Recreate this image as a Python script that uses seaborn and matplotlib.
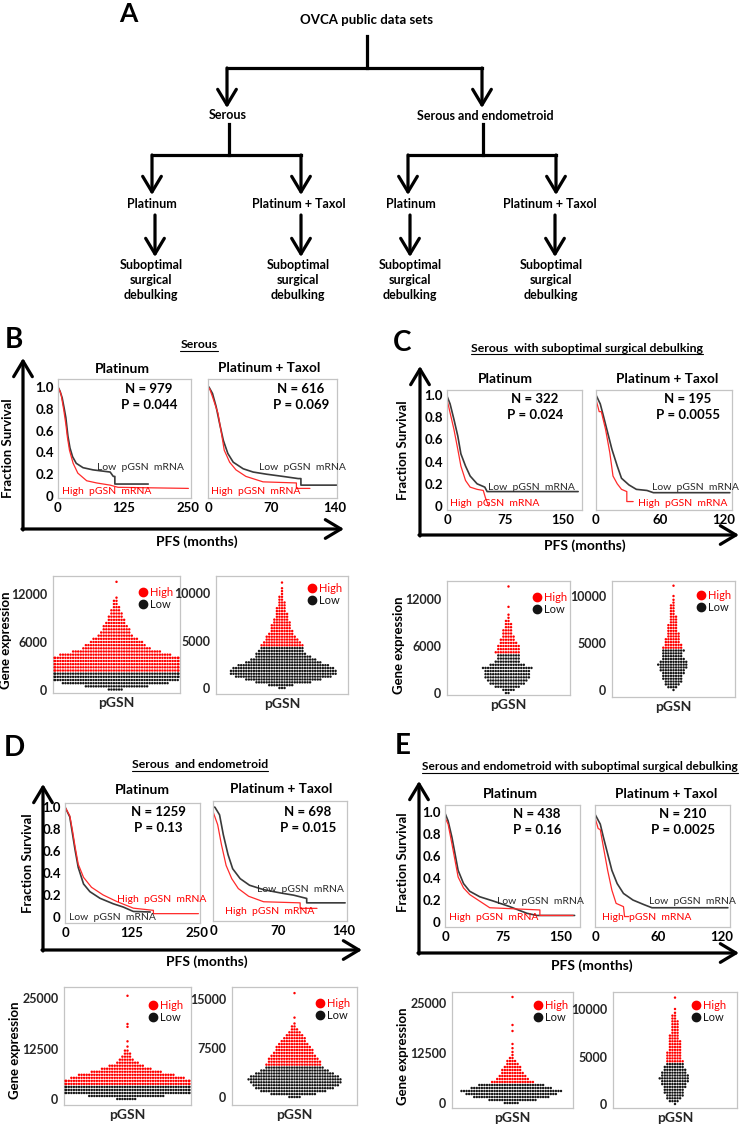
import numpy as np
import pandas as pd
import matplotlib
matplotlib.use('Agg')
import matplotlib.pyplot as plt
import seaborn as sns
from matplotlib.lines import Line2D

sns.set_theme(style='white')
plt.rcParams['font.family'] = ['Lato', 'DejaVu Sans']

# ---------------- Kaplan-Meier curves (months, fraction surviving)
# B: serous
b_plat_low_t = [0, 4, 8, 12, 15, 19, 23, 28, 35, 48, 67, 100, 106, 109, 109, 173]
b_plat_low_s = [1.0, 0.96, 0.9, 0.8, 0.72, 0.55, 0.44, 0.36, 0.3, 0.26, 0.24, 0.22, 0.18, 0.18, 0.11, 0.11]
b_plat_high_t = [0, 3, 6, 11, 15, 18, 22, 29, 38, 55, 74, 100, 115, 250]
b_plat_high_s = [1.0, 0.97, 0.93, 0.79, 0.66, 0.54, 0.42, 0.3, 0.21, 0.14, 0.12, 0.1, 0.08, 0.07]
b_tax_low_t = [0, 1, 5, 9, 13, 17, 22, 28, 39, 50, 65, 83, 100, 103, 103, 143]
b_tax_low_s = [1.0, 1.0, 0.94, 0.82, 0.66, 0.51, 0.39, 0.31, 0.25, 0.22, 0.2, 0.18, 0.16, 0.16, 0.1, 0.1]
b_tax_high_t = [0, 2, 5, 11, 15, 18, 24, 31, 42, 61, 98, 98, 113]
b_tax_high_s = [1.0, 0.98, 0.91, 0.76, 0.57, 0.42, 0.31, 0.24, 0.18, 0.13, 0.12, 0.07, 0.07]
# C: serous, suboptimal debulking
c_plat_low_t = [0, 4, 9, 14, 18, 24, 30, 39, 49, 52, 170]
c_plat_low_s = [0.99, 0.92, 0.78, 0.63, 0.47, 0.36, 0.27, 0.2, 0.17, 0.13, 0.13]
c_plat_high_t = [0, 4, 9, 14, 18, 24, 30, 39, 47, 50, 54]
c_plat_high_s = [0.96, 0.84, 0.69, 0.51, 0.36, 0.23, 0.17, 0.15, 0.14, 0.07, 0.0]
c_tax_low_t = [0, 4, 7, 11, 15, 20, 24, 31, 38, 48, 54, 126]
c_tax_low_s = [1.0, 0.92, 0.81, 0.66, 0.51, 0.36, 0.25, 0.19, 0.15, 0.14, 0.12, 0.12]
c_tax_high_t = [0, 3, 5, 9, 13, 16, 20, 24, 29, 29, 35]
c_tax_high_s = [0.96, 0.85, 0.85, 0.69, 0.48, 0.27, 0.2, 0.15, 0.13, 0.04, 0.04]
# D: serous and endometrioid
d_plat_low_t = [0, 9, 14, 19, 25, 35, 47, 66, 91, 110, 129, 161]
d_plat_low_s = [1.0, 0.91, 0.76, 0.61, 0.45, 0.3, 0.23, 0.17, 0.12, 0.09, 0.05, 0.045]
d_plat_high_t = [0, 9, 14, 19, 25, 35, 50, 72, 98, 129, 167, 167, 252]
d_plat_high_s = [1.0, 0.92, 0.79, 0.64, 0.48, 0.36, 0.27, 0.2, 0.14, 0.08, 0.06, 0.03, 0.03]
d_tax_low_t = [0, 2, 7, 11, 16, 21, 29, 39, 54, 72, 86, 100, 100, 141]
d_tax_low_s = [0.98, 0.98, 0.91, 0.73, 0.55, 0.42, 0.33, 0.27, 0.23, 0.2, 0.18, 0.15, 0.11, 0.11]
d_tax_high_t = [0, 5, 9, 14, 20, 27, 38, 54, 93, 93, 111]
d_tax_high_s = [0.94, 0.82, 0.64, 0.45, 0.33, 0.24, 0.17, 0.12, 0.11, 0.06, 0.06]
# E: serous and endometrioid, suboptimal debulking
e_plat_low_t = [0, 4, 9, 13, 17, 24, 32, 45, 63, 84, 106, 119, 168]
e_plat_low_s = [0.99, 0.92, 0.77, 0.62, 0.47, 0.35, 0.28, 0.23, 0.19, 0.14, 0.08, 0.06, 0.06]
e_plat_high_t = [0, 4, 9, 13, 17, 24, 32, 45, 58, 123, 123, 166]
e_plat_high_s = [0.95, 0.89, 0.71, 0.56, 0.41, 0.31, 0.25, 0.19, 0.13, 0.11, 0.06, 0.06]
e_tax_low_t = [0, 5, 8, 12, 16, 21, 27, 36, 46, 54, 126]
e_tax_low_s = [0.98, 0.89, 0.77, 0.62, 0.47, 0.35, 0.26, 0.2, 0.16, 0.13, 0.13]
e_tax_high_t = [0, 3, 5, 8, 12, 16, 20, 27, 28, 32]
e_tax_high_s = [0.95, 0.85, 0.84, 0.68, 0.47, 0.29, 0.17, 0.14, 0.05, 0.05]

km_n = ['979', '616', '322', '195', '1259', '698', '438', '210']
km_p = ['0.044', '0.069', '0.024', '0.0055', '0.13', '0.015', '0.16', '0.0025']

# ---------------- pGSN expression swarms: expression level of each row and how many patients sit on it
b1_levels = [0, 400, 800, 1200, 1600, 2000, 2400, 2800, 3200, 3600, 4000, 4400, 4800, 5200, 5600, 6000,
             6400, 6800, 7200, 7600, 8000, 8400, 8800, 9200, 9600, 10000, 10400, 10800, 11200, 11600, 13600]
b1_counts = [6, 25, 42, 50, 51, 51, 51, 51, 51, 51, 51, 44, 35, 27, 24, 21,
             18, 14, 12, 11, 10, 8, 7, 6, 5, 4, 3, 2, 2, 1, 1]
b1_cut = 2300
b2_levels = [0, 300, 600, 900, 1200, 1500, 1800, 2100, 2400, 2700, 3000, 3300, 3600, 3900, 4200, 4500, 4800,
             5100, 5400, 5700, 6000, 6300, 6600, 6900, 7200, 7500, 7800, 8100, 8400, 8700, 9000, 9300, 9600,
             9900, 10200, 10500, 11100]
b2_counts = [3, 10, 22, 30, 38, 42, 42, 40, 36, 30, 26, 22, 20, 18, 17, 17, 15,
             13, 12, 10, 9, 8, 8, 7, 6, 5, 5, 4, 4, 3, 3, 2, 2,
             1, 1, 1, 1]
b2_cut = 4350
c1_levels = [0, 400, 800, 1200, 1600, 2000, 2400, 2800, 3200, 3600, 4000, 4400, 4800, 5200, 5600, 6000,
             6400, 6800, 7200, 7600, 8000, 8400, 8800, 9200, 9600, 10000, 11000, 13600]
c1_counts = [2, 5, 10, 14, 16, 18, 18, 18, 20, 14, 10, 9, 9, 10, 9, 9,
             7, 6, 5, 4, 4, 3, 3, 2, 1, 1, 1, 1]
c1_cut = 5000
c2_levels = [0, 300, 600, 900, 1200, 1500, 1800, 2100, 2400, 2700, 3000, 3300, 3600, 3900, 4200, 4500, 4800,
             5100, 5400, 5700, 6000, 6300, 6600, 6900, 7200, 7500, 7800, 8100, 8400, 8700, 9000, 9300, 9600,
             10000, 11100]
c2_counts = [1, 4, 6, 7, 8, 8, 9, 10, 11, 12, 11, 9, 8, 8, 9, 8, 7,
             6, 6, 5, 5, 4, 4, 4, 3, 3, 3, 2, 2, 2, 2, 1, 1,
             1, 1]
c2_cut = 4350
d1_levels = [0, 750, 1500, 2250, 3000, 3750, 4500, 5250, 6000, 6750, 7500, 8250, 9000, 9750, 10500,
             11250, 12000, 13000, 14300, 17900, 18600, 25600]
d1_counts = [8, 30, 51, 51, 51, 51, 51, 45, 38, 28, 20, 14, 9, 6, 4,
             3, 2, 1, 1, 1, 1, 1]
d1_cut = 3300
d2_levels = [0, 450, 900, 1350, 1800, 2250, 2700, 3150, 3600, 4050, 4500, 4950, 5400, 5850, 6300, 6750,
             7200, 7650, 8100, 8550, 9000, 9450, 9900, 10350, 10800, 11250, 12150, 15900]
d2_counts = [5, 18, 26, 31, 34, 36, 37, 35, 31, 27, 23, 22, 21, 20, 18, 16,
             15, 14, 12, 10, 9, 7, 5, 3, 2, 1, 1, 1]
d2_cut = 4700
e1_levels = [0, 750, 1500, 2250, 3000, 3750, 4500, 5250, 6000, 6750, 7500, 8250, 9000, 9750, 10500,
             11250, 12000, 12750, 13700, 14750, 18000, 19500, 26500]
e1_counts = [6, 19, 30, 36, 40, 32, 26, 17, 13, 11, 9, 8, 7, 5, 4,
             2, 1, 1, 1, 1, 1, 1, 1]
e1_cut = 5000
e2_levels = [0, 300, 600, 900, 1200, 1500, 1800, 2100, 2400, 2700, 3000, 3300, 3600, 3900, 4200, 4500, 4800,
             5100, 5400, 5700, 6000, 6300, 6600, 6900, 7200, 7500, 7800, 8100, 8400, 8700, 9000, 9300, 9600,
             10000, 11200]
e2_counts = [1, 4, 6, 7, 8, 8, 9, 10, 11, 12, 11, 10, 9, 8, 7, 7, 6,
             6, 6, 5, 5, 5, 5, 4, 4, 3, 3, 3, 3, 3, 2, 2, 1,
             1, 1]
e2_cut = 4350

LOW_LINE, HIGH_LINE = '#3a3a3a', '#ff2a2a'
LOW_DOT, HIGH_DOT = '#141414', '#ff0000'
FRAME = '#c4c4c4'

W, H = 747, 1124
fig = plt.figure(figsize=(W / 100, H / 100), dpi=100)


def px_axes(x0, y0, x1, y1):
    return fig.add_axes([x0 / W, 1 - y1 / H, (x1 - x0) / W, (y1 - y0) / H])


def frame(ax):
    for sp in ax.spines.values():
        sp.set_color(FRAME)
        sp.set_linewidth(0.9)


def km_panel(box, xmax, ylim, xticks, low, high, show_y):
    ax = px_axes(*box)
    sns.lineplot(x=low[0], y=low[1], sort=False, estimator=None, color=LOW_LINE, lw=1.2, ax=ax, legend=False)
    sns.lineplot(x=high[0], y=high[1], sort=False, estimator=None, color=HIGH_LINE, lw=0.9, ax=ax, legend=False)
    ax.set_xlim(0, xmax)
    ax.set_ylim(*ylim)
    ax.set_xticks(xticks)
    ax.set_xticklabels([str(v) for v in xticks], fontsize=9.5, fontweight='bold')
    ax.set_yticks([0, 0.2, 0.4, 0.6, 0.8, 1.0])
    if show_y:
        ax.set_yticklabels(['0', '0.2', '0.4', '0.6', '0.8', '1.0'], fontsize=9.5, fontweight='bold')
    else:
        ax.set_yticklabels([])
    ax.tick_params(direction='in', length=2, width=0.6, color='#9a9a9a', pad=3, labelcolor='black')
    ax.set_xlabel('')
    ax.set_ylabel('')
    frame(ax)
    return ax


def swarm_panel(box, ylim, yticks, levels, counts, cut, dot):
    ax = px_axes(*box)
    expr = np.repeat(levels, counts)
    df = pd.DataFrame({'gene': 'pGSN', 'expr': expr,
                       'group': np.where(expr > cut, 'High', 'Low')})
    sns.swarmplot(data=df, x='gene', y='expr', hue='group', palette={'High': HIGH_DOT, 'Low': LOW_DOT},
                  size=1.75, linewidth=0, legend=False, ax=ax)
    # the swarm may use +-0.4 of the category; let that fill the box
    ax.set_xlim(-0.41, 0.41)
    ax.set_ylim(*ylim)
    ax.set_yticks(yticks)
    ax.set_yticklabels([str(v) for v in yticks], fontsize=9, fontweight='bold')
    ax.set_xticks([0])
    ax.set_xticklabels(['pGSN'], fontsize=10, fontweight='bold')
    ax.tick_params(axis='y', length=2, width=0.6, color='#9a9a9a', pad=2)
    ax.tick_params(axis='x', length=0, pad=3)
    ax.set_xlabel('')
    ax.set_ylabel('')
    frame(ax)
    handles = [Line2D([], [], ls='', marker='o', ms=6, color=HIGH_DOT),
               Line2D([], [], ls='', marker='o', ms=6, color=LOW_DOT)]
    ax.legend(handles, ['High', 'Low'], loc='upper left',
              bbox_to_anchor=((dot[0] - 5) / W, 1 - (dot[1] - 6) / H), bbox_transform=fig.transFigure,
              frameon=False, fontsize=8, handlelength=0.7, handletextpad=0.25, borderpad=0,
              borderaxespad=0, labelspacing=0.05, labelcolor='markerfacecolor')
    return ax


km_specs = [
    ((58, 379, 191, 498), 255, (-0.018, 1.073), [0, 125, 250],
     (b_plat_low_t, b_plat_low_s), (b_plat_high_t, b_plat_high_s), True),
    ((208, 379, 337, 498), 143, (-0.018, 1.073), [0, 70, 140],
     (b_tax_low_t, b_tax_low_s), (b_tax_high_t, b_tax_high_s), False),
    ((447, 390, 582, 510), 175, (-0.036, 1.045), [0, 75, 150],
     (c_plat_low_t, c_plat_low_s), (c_plat_high_t, c_plat_high_s), True),
    ((596, 390, 732, 510), 128, (-0.036, 1.045), [0, 60, 120],
     (c_tax_low_t, c_tax_low_s), (c_tax_high_t, c_tax_high_s), False),
    ((65, 803, 200, 923), 255, (-0.055, 1.036), [0, 125, 250],
     (d_plat_low_t, d_plat_low_s), (d_plat_high_t, d_plat_high_s), True),
    ((213, 801, 347, 921), 143, (-0.055, 1.036), [0, 70, 140],
     (d_tax_low_t, d_tax_low_s), (d_tax_high_t, d_tax_high_s), False),
    ((445, 805, 580, 927), 175, (-0.045, 1.064), [0, 75, 150],
     (e_plat_low_t, e_plat_low_s), (e_plat_high_t, e_plat_high_s), True),
    ((595, 805, 730, 927), 128, (-0.045, 1.064), [0, 60, 120],
     (e_tax_low_t, e_tax_low_s), (e_tax_high_t, e_tax_high_s), False),
]
for spec in km_specs:
    km_panel(*spec)

swarm_specs = [
    ((53, 576, 180, 693), (-442, 14335), [0, 6000, 12000], b1_levels, b1_counts, b1_cut, (144, 593)),
    ((216, 576, 348, 694), (-630, 11790), [0, 5000, 10000], b2_levels, b2_counts, b2_cut, (313, 589)),
    ((447, 581, 570, 695), (-255, 14300), [0, 6000, 12000], c1_levels, c1_counts, c1_cut, (538, 598)),
    ((612, 581, 735, 697), (-745, 11600), [0, 5000, 10000], c2_levels, c2_counts, c2_cut, (702, 596)),
    ((64, 987, 191, 1105), (-1488, 27776), [0, 12500, 25000], d1_levels, d1_counts, d1_cut, (154, 1006)),
    ((232, 987, 357, 1105), (-1224, 16836), [0, 7500, 15000], d2_levels, d2_counts, d2_cut, (321, 1004)),
    ((452, 992, 573, 1108), (-1250, 27750), [0, 12500, 25000], e1_levels, e1_counts, e1_cut, (539, 1006)),
    ((613, 992, 737, 1108), (-421, 11790), [0, 5000, 10000], e2_levels, e2_counts, e2_cut, (697, 1006)),
]
for spec in swarm_specs:
    swarm_panel(*spec)

# ---------------- overlay in pixel coordinates: flow chart, arrows, labels
ov = fig.add_axes([0, 0, 1, 1])
ov.set_xlim(0, W)
ov.set_ylim(H, 0)
ov.axis('off')


def line(x0, y0, x1, y1):
    ov.plot([x0, x1], [y0, y1], color='black', lw=2.3, solid_capstyle='projecting')


def arrow(x0, y0, x1, y1):
    ov.annotate('', xy=(x1, y1), xytext=(x0, y0),
                arrowprops=dict(arrowstyle='->,head_length=0.7,head_width=0.42', lw=2.3, color='black',
                                shrinkA=0, shrinkB=0, mutation_scale=16))


def txt(x, y, s, size=9, weight='bold', color='black', ha='center', **kw):
    return ov.text(x, y, s, fontsize=size, fontweight=weight, color=color, ha=ha, va='center', **kw)


# panel A flow chart
txt(128, 14, 'A', size=19)
txt(366, 20, 'OVCA public data sets', size=9.5)
line(367, 36, 367, 68)
line(227, 68, 482, 68)
arrow(227, 68, 227, 108)
arrow(482, 68, 482, 108)
txt(228, 115, 'Serous')
txt(485, 116, 'Serous and endometroid')
line(229, 124, 229, 155)
line(152, 155, 301, 155)
arrow(152, 155, 152, 195)
arrow(301, 155, 301, 195)
line(483, 124, 483, 155)
line(408, 155, 556, 155)
arrow(408, 155, 408, 195)
arrow(556, 155, 556, 195)
for x, lab in [(152, 'Platinum'), (299, 'Platinum + Taxol'), (411, 'Platinum'), (550, 'Platinum + Taxol')]:
    txt(x, 204, lab)
for x in [155, 301, 410, 555]:
    arrow(x, 215, x, 257)
for x in [151, 298, 410, 551]:
    txt(x, 280, 'Suboptimal\nsurgical\ndebulking', linespacing=1.3)

# panel letters and titles
for x, y, s in [(14, 340, 'B'), (402, 343, 'C'), (14, 748, 'D'), (403, 746, 'E')]:
    txt(x, y, s, size=20)
titles = [txt(199, 345, 'Serous', size=8.8),
          txt(587, 348, 'Serous  with suboptimal surgical debulking', size=8.8),
          txt(200, 765, 'Serous  and endometroid', size=8.8),
          txt(580, 767, 'Serous and endometroid with suboptimal surgical debulking', size=8.6)]

# KM plot headers
for x, y in [(122, 369), (505, 379), (142, 790), (510, 794)]:
    txt(x, y, 'Platinum', size=10)
for x, y in [(269, 368), (667, 379), (281, 789), (666, 794)]:
    txt(x, y, 'Platinum + Taxol', size=9.8)

# N and P
np_pos = [(149, 389), (301, 389), (535, 399), (688, 399), (158, 812), (308, 812), (537, 814), (683, 814)]
for (x, y), n, p in zip(np_pos, km_n, km_p):
    txt(x, y, 'N = ' + n, size=9.5)
    txt(x, y + 16, 'P = ' + p, size=9.5)

# curve labels (left edges as in the reference)
low_pos = [(97, 468), (259, 467), (488, 487), (652, 487), (69, 917), (257, 890), (497, 901), (649, 901)]
high_pos = [(62, 492), (211, 492), (450, 503), (638, 503), (117, 899), (225, 911), (449, 917), (602, 918)]
for (x, y) in low_pos:
    txt(x, y, 'Low  pGSN  mRNA', size=7.5, weight='normal', color='#2a2a2a', ha='left')
for (x, y) in high_pos:
    txt(x, y, 'High  pGSN  mRNA', size=7.5, weight='normal', color=HIGH_DOT, ha='left')

# big axis arrows
for xv, yb, yt, xr in [(23, 529, 358, 344), (420, 535, 366, 739), (43, 950, 784, 362), (419, 953, 781, 739)]:
    arrow(xv, yb + 1, xv, yt)
    arrow(xv - 1, yb, xr, yb)

for x, y in [(8, 448), (403, 450), (28, 863), (403, 862)]:
    txt(x, y, 'Fraction Survival', size=9.5, rotation=90)
for x, y in [(197, 542), (585, 546), (207, 962), (592, 966)]:
    txt(x, y, 'PFS (months)', size=10)
for x, y in [(6, 640), (399, 645), (15, 1050), (403, 1056)]:
    txt(x, y, 'Gene expression', size=9.5, rotation=90)

# underline the section titles
fig.canvas.draw()
inv = ov.transData.inverted()
for t in titles:
    bb = t.get_window_extent()
    (x0, y0), (x1, _) = inv.transform([[bb.x0, bb.y0], [bb.x1, bb.y1]])
    ov.plot([x0, x1], [y0 + 0.5, y0 + 0.5], color='black', lw=0.8)

fig.savefig('out.png', dpi=100)
